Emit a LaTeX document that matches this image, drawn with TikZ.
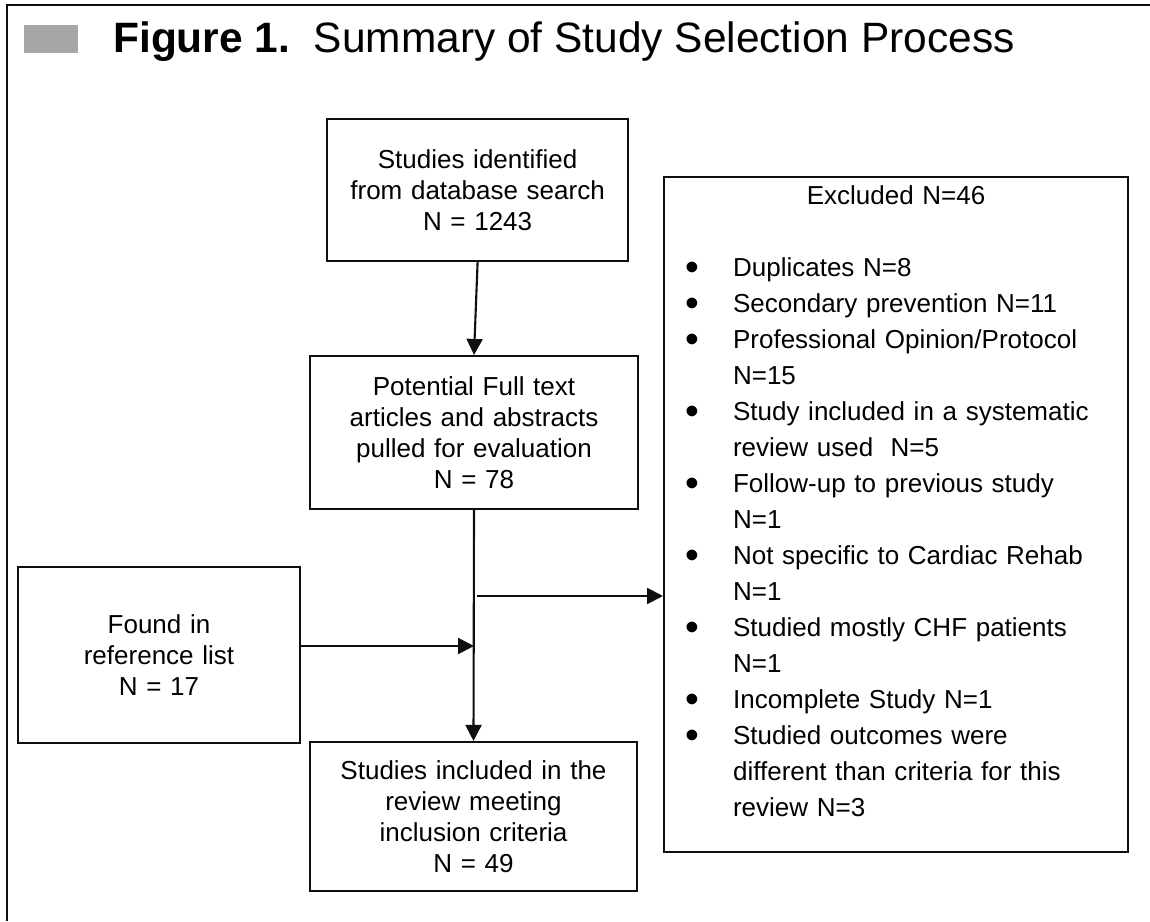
\documentclass[tikz,border=0pt]{standalone}
\usepackage{fontspec}
\setmainfont{Liberation Sans}
\usepackage{tikz}
\usetikzlibrary{arrows.meta, positioning, calc}
\definecolor{mydark}{RGB}{15,15,15}
\definecolor{markgray}{RGB}{166,166,166}
\tikzset{
  box/.style={rectangle, draw=mydark, line width=1.5pt, align=center,
    font=\fontsize{18.5}{22}\selectfont, inner xsep=0pt, inner ysep=0.4cm},
  exbox/.style={rectangle, draw=mydark, line width=1.5pt, text width=11.0cm,
    font=\fontsize{18.5}{25.6}\selectfont, inner xsep=0.3cm, inner ysep=0.225cm},
  arrow/.style={-{Triangle[length=0.4cm,width=0.4cm]}, line width=1.5pt, color=mydark},
  frame/.style={line width=1.8pt, color=mydark}
}
\newcommand{\exbullet}{{\fontsize{28}{0}\selectfont\raisebox{-0.1em}{\textbullet}}}

\begin{document}
\begin{tikzpicture}
\useasboundingbox (0,0) rectangle (28.75,23.025);
%--- frame and title ---
\draw[frame] (0.175,0) -- (0.175,22.9) -- (28.75,22.9);
\fill[markgray] (0.6,21.7) rectangle (1.95,22.4);
\node[anchor=base west, font=\fontsize{30.2}{34}\selectfont, inner sep=0pt] (title) at (2.825,21.72)
  {\textbf{Figure 1.}\ \ Summary of Study Selection Process};

%--- main column ---
\node[box, text width=7.525cm, minimum height=3.55cm] (src) at (11.94,18.275)
  {Studies identified\\ from database search\\ N = 1243};
\node[box, text width=8.2cm, minimum height=3.825cm] (full) at (11.85,12.2125)
  {Potential Full text\\ articles and abstracts\\ pulled for evaluation\\ N = 78};
\node[box, text width=8.175cm, minimum height=3.725cm] (incl) at (11.8375,2.6125)
  {Studies included in the\\ review meeting\\ inclusion criteria\\ N = 49};
% extra source (left)
\node[box, text width=7.05cm, minimum height=4.4cm] (found) at (3.975,6.65)
  {Found in\\ reference list\\ N = 17};

%--- excluded list (right) ---
\node[exbox, anchor=north west, text depth=15.95cm] (excl) at (16.575,18.625) {%
  {\centering Excluded N=46\par}
  \vspace{25.6pt}
  \begin{list}{\exbullet}{\setlength{\leftmargin}{1.425cm}\setlength{\labelsep}{0.85cm}
    \setlength{\topsep}{0pt}\setlength{\partopsep}{0pt}\setlength{\itemsep}{0pt}\setlength{\parsep}{0pt}}
  \raggedright
  \item Duplicates N=8
  \item Secondary prevention N=11
  \item Professional Opinion/Protocol\newline N=15
  \item Study included in a systematic\newline review used\ \ N=5
  \item Follow-up to previous study\newline N=1
  \item Not specific to Cardiac Rehab\newline N=1
  \item Studied mostly CHF patients\newline N=1
  \item Incomplete Study N=1
  \item Studied outcomes were\newline different than criteria for this\newline review N=3
  \end{list}};

%--- connectors ---
\coordinate (jin) at (11.85,6.875);
\coordinate (jout) at (11.925,8.125);
\draw[arrow] (src.south) -- (full.north);
\draw[arrow] (full.south) -- (incl.north);
\draw[arrow] (found.east |- jin) -- (jin);
\draw[arrow] (jout) -- (jout -| excl.west);
\end{tikzpicture}
\end{document}
